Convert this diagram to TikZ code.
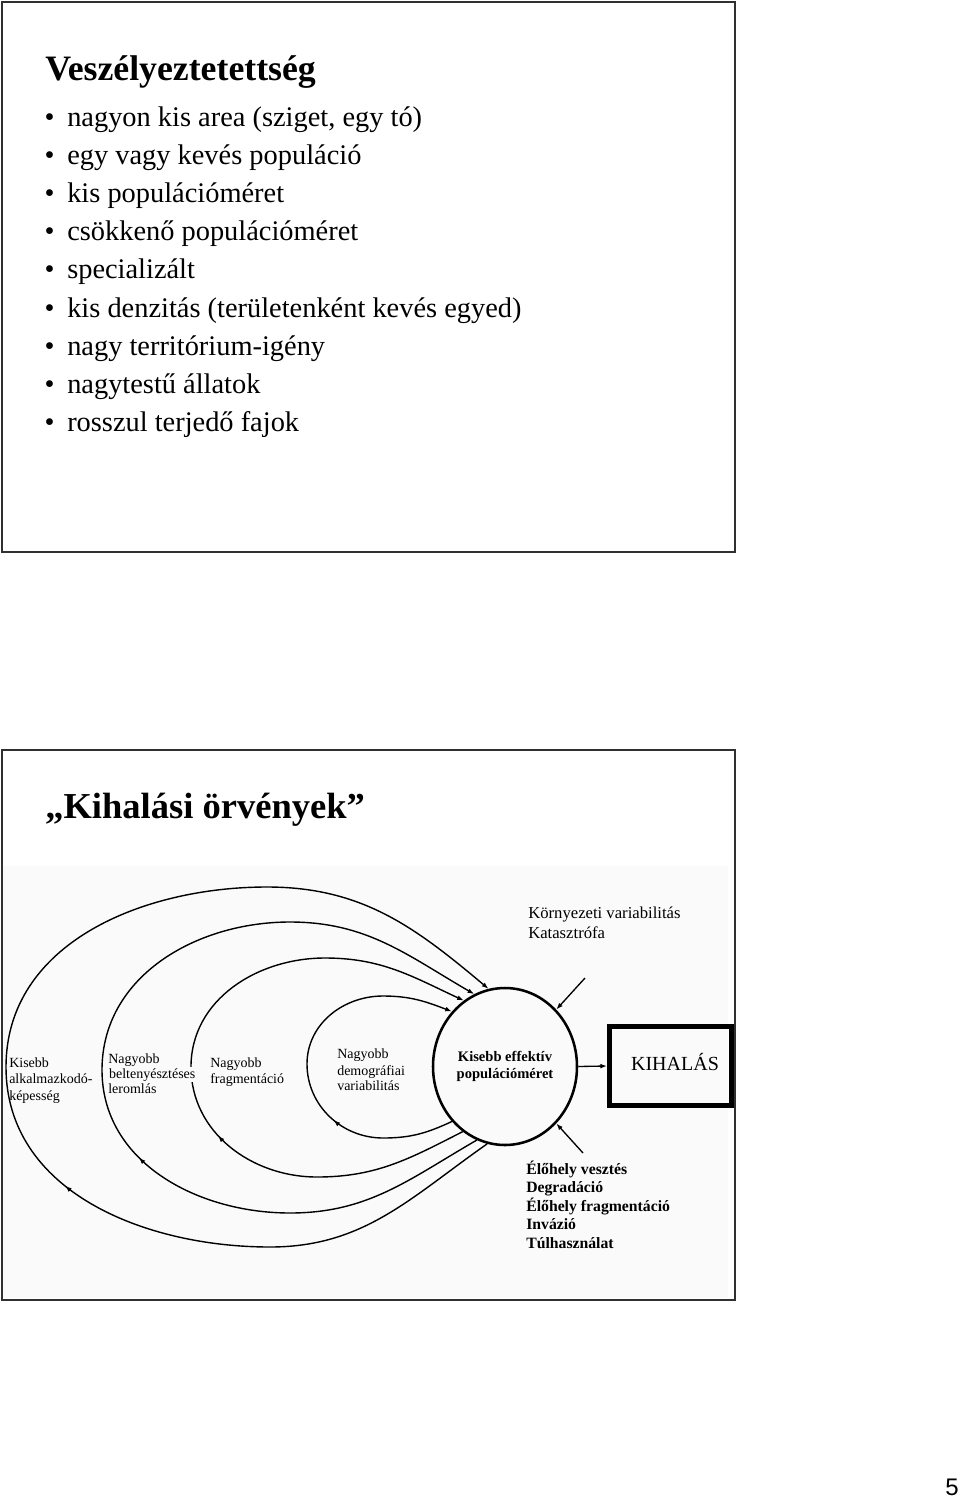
\documentclass[tikz,border=0pt]{standalone}
\usepackage{fontspec}
\setmainfont{Liberation Serif}
\newfontfamily\sansf{Liberation Sans}
\usetikzlibrary{arrows.meta,shapes.geometric,decorations.markings}
\definecolor{framecol}{HTML}{303030}
\definecolor{bgcol}{HTML}{FAFAFA}
\newcommand{\myfs}[2]{\fontsize{#1}{#2}\selectfont}
\begin{document}
\begin{tikzpicture}[x=0.75pt,y=0.75pt,
  slideframe/.style={draw=framecol,line width=1.8pt},
  bul/.style={anchor=base west,inner sep=0pt,font=\myfs{21.3pt}{21.3pt}},
  ttl/.style={anchor=base west,inner sep=0pt,font=\bfseries\myfs{#1}{#1}},
  lbl/.style={anchor=base west,inner sep=0pt,font=\myfs{10.5pt}{10.5pt}},
  rtxt/.style={anchor=base west,inner sep=0pt,font=\myfs{12.5pt}{12.5pt}},
  rbold/.style={anchor=base west,inner sep=0pt,font=\bfseries\myfs{11.8pt}{11.8pt}},
  tip/.style={-{Latex[length=5pt,width=3.6pt]}},
  vortex/.style={line width=1.05pt,tip},
  midarrow/.style={postaction={decorate},decoration={markings,mark=at position #1 with {\arrow{Latex[length=5pt,width=3.6pt]}}}}
]
\fill[white] (0,0) rectangle (960,-1501);
\useasboundingbox (0,0) rectangle (960,-1501);

% slide 1
\draw[slideframe] (2,-2) rectangle (735,-552);
\node[ttl=26.8pt] (t1) at (45,-81) {Veszélyeztetettség};
\foreach \t [count=\i from 0] in {{nagyon kis area (sziget, egy tó)},{egy vagy kevés populáció},{kis populációméret},{csökkenő populációméret},{specializált},{kis denzitás (területenként kevés egyed)},{nagy territórium-igény},{nagytestű állatok},{rosszul terjedő fajok}}
  \node[bul] (b\i) at (67,{-127-38*\i}) {\llap{\textbullet\hspace{9.5pt}}\t};

% slide 2
\fill[bgcol] (3,-866) rectangle (728,-1298);
\draw[slideframe] (2,-750) rectangle (735,-1300);
\node[ttl=27.4pt] (t2) at (45,-818) {„Kihalási örvények”};

\node[ellipse,draw,line width=1.9pt,minimum width=108pt,minimum height=117.75pt,inner sep=0pt,align=center,font=\bfseries\myfs{10.9pt}{12.75pt}] (pop) at (505,-1066.5) {Kisebb effektív\\populációméret};

\node[draw,line width=3.75pt,minimum width=91.5pt,minimum height=59.25pt,inner sep=0pt] (box) at (670.5,-1066) {};
\node[inner sep=0pt,font=\myfs{15pt}{15pt}] (kih) at (675,-1062) {KIHALÁS};
\draw[line width=1pt,tip] (pop.east) -- (box.west);

% loops
\draw[vortex,midarrow=0.385] (pop.257.8) to[out=215,in=0] (270,-1247) to[out=180,in=270] (6,-1067) to[out=90,in=180] (267,-887) to[out=0,in=140] (pop.102.9);
\draw[vortex,midarrow=0.395] (pop.249.6) to[out=210,in=0] (290,-1213) to[out=180,in=270] (102,-1070) to[out=90,in=180] (290,-922) to[out=0,in=150] (pop.113.2);
\draw[vortex,midarrow=0.39] (pop.237.7) to[out=207,in=0] (317,-1177) to[out=180,in=270] (191,-1067) to[out=90,in=180] (325,-958) to[out=0,in=155] (pop.122.9);
\draw[vortex,midarrow=0.335] (pop.226.8) to[out=205,in=0] (383,-1138) to[out=180,in=270] (307,-1064) to[out=90,in=180] (383,-996) to[out=0,in=159] (pop.134.2);

% left labels
\node[lbl] (k1) at (9,-1067) {Kisebb};
\node[lbl] (k2) at (9,-1083) {alkalmazkodó-};
\node[lbl] (k3) at (9,-1100) {képesség};
\node[lbl] (n1) at (108,-1063) {Nagyobb};
\node[lbl,fill=bgcol,inner sep=0.6pt] (n2) at (108,-1078) {beltenyésztéses};
\node[lbl] (n3) at (108,-1093) {leromlás};
\node[lbl] (f1) at (210,-1067) {Nagyobb};
\node[lbl] (f2) at (210,-1083) {fragmentáció};
\node[lbl] (d1) at (337,-1058) {Nagyobb};
\node[lbl] (d2) at (337,-1075) {demográfiai};
\node[lbl] (d3) at (337,-1090) {variabilitás};

% external factors
\node[rtxt] (e1) at (528,-918) {Környezeti variabilitás};
\node[rtxt] (e2) at (528,-938) {Katasztrófa};
\coordinate (envsrc) at (585,-978);
\draw[line width=1pt,tip] (envsrc) -- (pop.48.3);
\coordinate (habsrc) at (583,-1153);
\draw[line width=1pt,tip] (habsrc) -- (pop.-48.4);
\foreach \t [count=\i from 0] in {{Élőhely vesztés},{Degradáció},{Élőhely fragmentáció},{Invázió},{Túlhasználat}}
  \node[rbold] (h\i) at (526,{-1174-18.5*\i}) {\t};

\node[anchor=base east,inner sep=0pt,font=\sansf\myfs{18pt}{18pt}] (pg) at (959,-1495) {5};
\end{tikzpicture}
\end{document}
